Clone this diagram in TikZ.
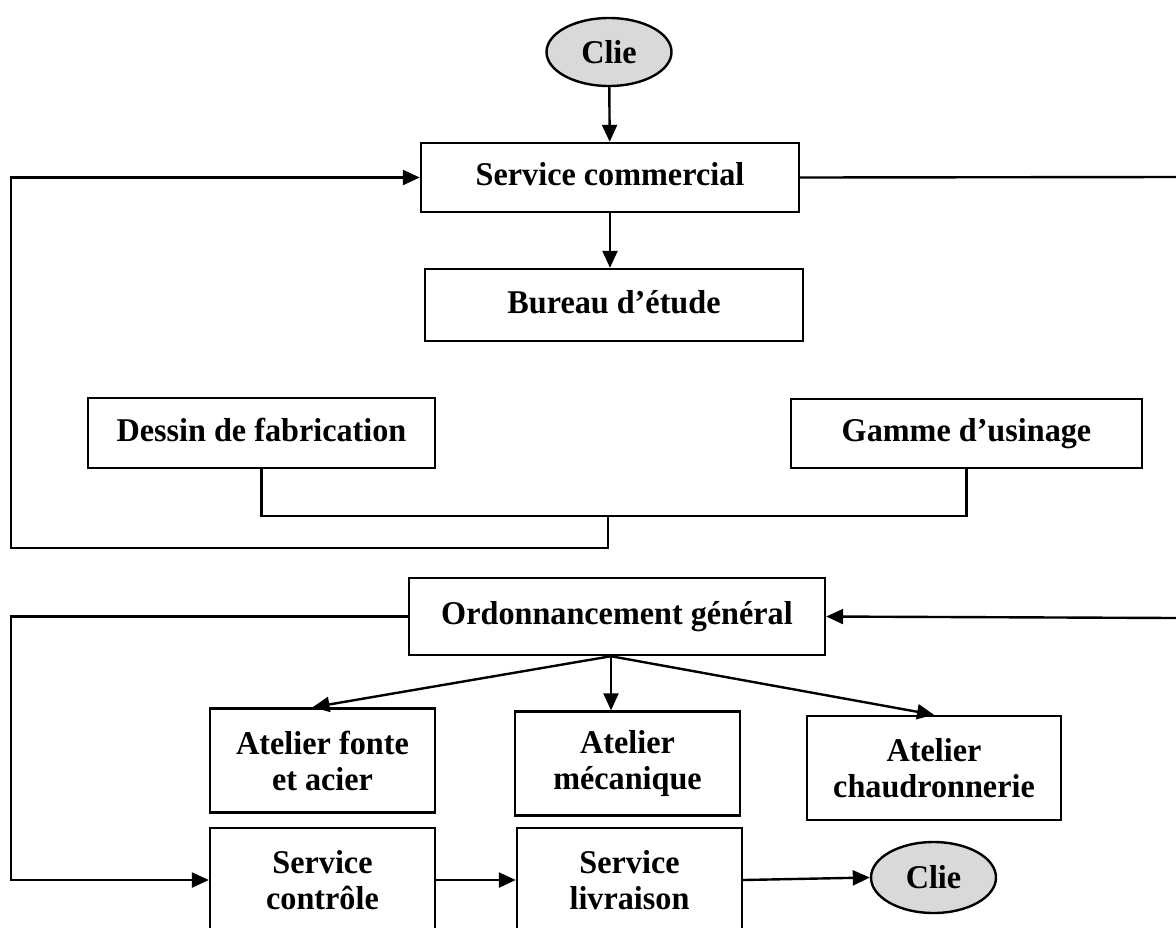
\documentclass[tikz,border=0pt]{standalone}
\usepackage{fontspec}
\setmainfont[FakeStretch=0.97]{Liberation Serif}
\usetikzlibrary{arrows.meta,shapes.geometric}
\tikzset{
  box/.style={draw,line width=1.2pt,align=center,inner sep=0pt,font=\bfseries\fontsize{16.6}{18}\selectfont},
  onebox/.style={box,text height=11pt,text depth=3pt},
  client/.style={box,ellipse,fill=black!15,minimum width=62.5pt,minimum height=34pt},
  arr/.style={-{Triangle[length=8.5pt,width=7.5pt]}},
}
\begin{document}
\begin{tikzpicture}[x=0.5pt,y=-0.5pt,line width=1.2pt]
\useasboundingbox (0,0) rectangle (1176,927);
% upper part
\node[client] (clie1) at (609,52) {Clie};
\node[onebox,minimum width=189pt,minimum height=34.5pt] (comm) at (610,177.5) {Service commercial};
\node[onebox,minimum width=189pt,minimum height=36pt] (bureau) at (614,305) {Bureau d’étude};
\node[onebox,minimum width=173.5pt,minimum height=35pt] (dessin) at (261.5,433) {Dessin de fabrication};
\node[onebox,minimum width=175.5pt,minimum height=34.5pt] (gamme) at (966.5,433.5) {Gamme d’usinage};
\coordinate (j) at (608,516);
\coordinate (lb) at (11,548);
\coordinate (r1) at (1176,177);
\draw[arr] (clie1) -- (comm);
\draw[arr] (comm.south) -- (comm.south |- bureau.north);
\draw (comm.east) -- (r1);
\draw (dessin.south) |- (gamme.south |- j) -- (gamme.south);
\draw[arr] (j) |- (lb) |- (comm.west);
% lower part
\node[onebox,minimum width=208pt,minimum height=38.5pt] (ordo) at (617,616.5) {Ordonnancement général};
\node[box,minimum width=112.5pt,minimum height=52pt] (fonte) at (322.5,760.5) {Atelier fonte\\et acier};
\node[box,minimum width=112.5pt,minimum height=52pt] (meca) at (627.5,763.5) {Atelier\\mécanique};
\node[box,minimum width=127pt,minimum height=52pt] (chaud) at (934,768) {Atelier\\chaudronnerie};
\node[box,minimum width=112.5pt,minimum height=52pt] (ctrl) at (322.5,880) {Service\\contrôle};
\node[box,minimum width=112.5pt,minimum height=52pt] (livr) at (629.5,880) {Service\\livraison};
\node[client,minimum height=35.5pt] (clie2) at (933.5,877.5) {Clie};
\coordinate (r2) at (1176,618);
\coordinate (ll) at (11,880);
\draw[arr] (r2) -- (ordo.east);
\draw[arr] ([xshift=-3pt]ordo.south) -- ([xshift=-5pt]fonte.north);
\draw[arr] ([xshift=-3pt]ordo.south) -- ([xshift=-3pt]ordo.south |- meca.north);
\draw[arr] ([xshift=-3pt]ordo.south) -- (chaud.north);
\draw[arr] (ordo.west) -| (ll) -- (ctrl.west);
\draw[arr] (ctrl.east) -- (livr.west);
\draw[arr] (livr.east) -- (clie2.west);
\end{tikzpicture}
\end{document}
